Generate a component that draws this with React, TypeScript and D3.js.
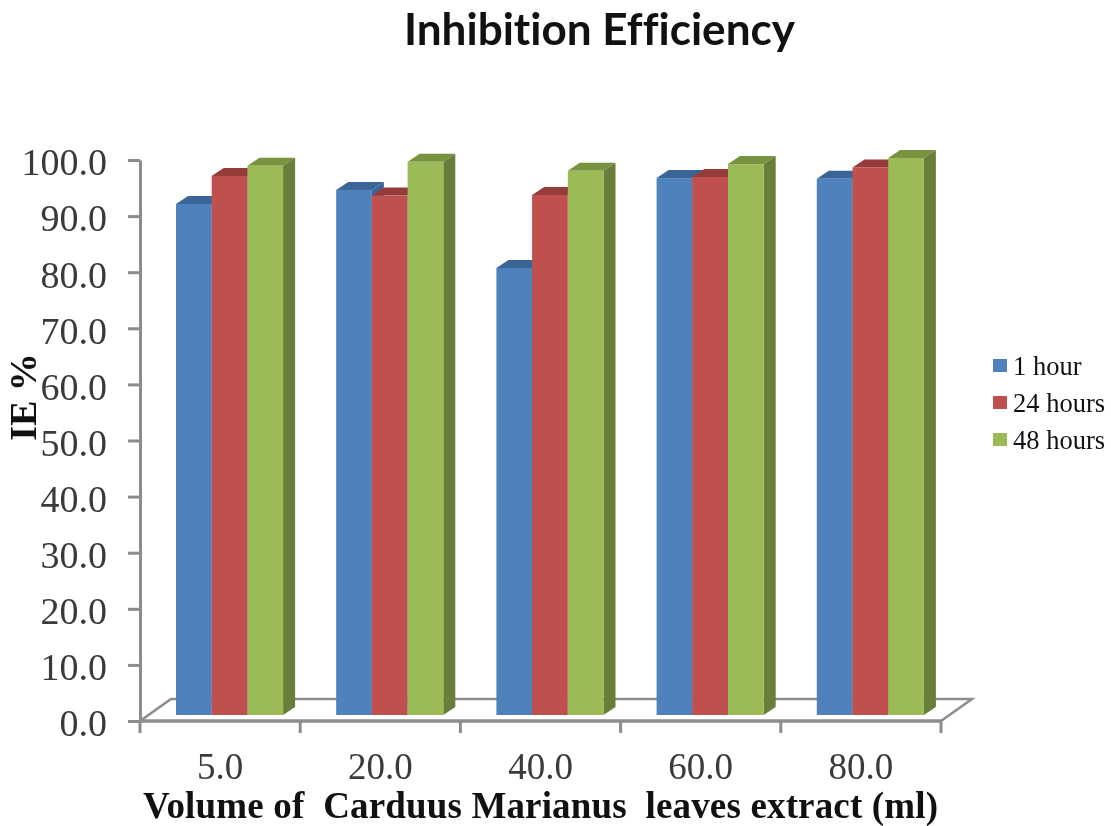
import React, { useRef, useEffect } from 'react'
import * as d3 from 'd3'

const volumes = ['5.0', '20.0', '40.0', '60.0', '80.0']
const seriesNames = ['1 hour', '24 hours', '48 hours']
const oneHour = [91.1, 93.6, 79.7, 95.7, 95.6]
const day = [96.1, 92.6, 92.7, 95.9, 97.6]
const twoDays = [97.9, 98.6, 97.0, 98.2, 99.3]
const yTicks = [0, 10, 20, 30, 40, 50, 60, 70, 80, 90, 100]

const seriesValues = [oneHour, day, twoDays]
const frontColors = ['#4f81bd', '#c0504d', '#9bbb59']
const topColors = ['#3b6596', '#953c3a', '#77933f']
const sideColors = ['#3b6596', '#953c3a', '#677f3a']

const App = () => {
  const svgRef = useRef<SVGSVGElement>(null)

  useEffect(() => {
    const svg = d3.select(svgRef.current)
    svg.selectAll('*').remove()

    const left = 140
    const right = 941
    const floorY = 721
    const topY = 160
    const depthX = 12
    const depthY = 8
    const floorDepthX = 31
    const floorDepthY = 22
    const serif = '"Liberation Serif", serif'
    const grey = '#8c8c8c'

    const y = d3.scaleLinear().domain([0, 100]).range([floorY, topY])
    const x = d3.scaleBand().domain(volumes).range([left, right])
    const barWidth = 35.7

    // floor
    svg
      .append('path')
      .attr(
        'd',
        `M${left},${floorY}L${left + floorDepthX},${floorY - floorDepthY}L${right + floorDepthX},${floorY - floorDepthY}L${right},${floorY}`,
      )
      .attr('fill', 'none')
      .attr('stroke', grey)
      .attr('stroke-width', 2.5)

    // axes
    const yAxis = d3
      .axisLeft(y)
      .tickValues(yTicks)
      .tickSize(12)
      .tickPadding(21)
      .tickSizeOuter(0)
      .tickFormat((d) => d3.format('.1f')(d as number))

    const gy = svg.append('g').attr('transform', `translate(${left},0)`).call(yAxis)
    gy.select('.domain').attr('stroke', grey).attr('stroke-width', 3)
    gy.selectAll('.tick line').attr('stroke', grey).attr('stroke-width', 3)
    gy.selectAll('.tick text')
      .attr('fill', '#3a3a3a')
      .attr('dy', '0.39em')
      .style('font-family', serif)
      .style('font-size', '38px')

    const xAxis = d3
      .axisBottom(x)
      .tickSize(0)
      .tickPadding(32)

    const gx = svg.append('g').attr('transform', `translate(0,${floorY})`).call(xAxis)
    gx.select('.domain').remove()
    gx.selectAll('.tick text')
      .attr('fill', '#3a3a3a')
      .style('font-family', serif)
      .style('font-size', '37px')

    svg
      .append('path')
      .attr('d', `M${left},${floorY}H${right}`)
      .attr('stroke', grey)
      .attr('stroke-width', 3.5)

    svg
      .append('g')
      .selectAll('line')
      .data([...volumes.map((v) => x(v) as number), right])
      .enter()
      .append('line')
      .attr('x1', (d) => d)
      .attr('x2', (d) => d)
      .attr('y1', floorY)
      .attr('y2', floorY + 12)
      .attr('stroke', grey)
      .attr('stroke-width', 3)

    // bars, drawn per group so that each one overlaps the previous side face
    const base = y(0) - 6
    volumes.forEach((v, i) => {
      const group = svg.append('g')
      seriesValues.forEach((values, s) => {
        const bx = (x(v) as number) + 36 + s * barWidth
        const top = base - (y(0) - y(values[i]))
        group
          .append('path')
          .attr(
            'd',
            `M${bx},${top}l${depthX},${-depthY}h${barWidth}l${-depthX},${depthY}z`,
          )
          .attr('fill', topColors[s])
        group
          .append('path')
          .attr(
            'd',
            `M${bx + barWidth},${top}l${depthX},${-depthY}V${base - depthY}l${-depthX},${depthY}z`,
          )
          .attr('fill', sideColors[s])
      })
      seriesValues.forEach((values, s) => {
        const bx = (x(v) as number) + 36 + s * barWidth
        const top = base - (y(0) - y(values[i]))
        group
          .append('rect')
          .attr('x', bx)
          .attr('y', top)
          .attr('width', barWidth)
          .attr('height', base - top)
          .attr('fill', frontColors[s])
      })
    })

    // titles
    svg
      .append('text')
      .attr('x', 404)
      .attr('y', 45)
      .attr('textLength', 391)
      .attr('lengthAdjust', 'spacingAndGlyphs')
      .style('font-family', 'Lato, sans-serif')
      .style('font-weight', 700)
      .style('font-size', '44px')
      .style('font-variant-ligatures', 'none')
      .attr('fill', '#111')
      .text('Inhibition Efficiency')

    svg
      .append('text')
      .attr('x', 143)
      .attr('y', 818)
      .attr('textLength', 795)
      .style('font-family', serif)
      .style('font-weight', 700)
      .style('font-size', '37px')
      .style('white-space', 'pre')
      .attr('fill', '#111')
      .text('Volume of  Carduus Marianus  leaves extract (ml)')

    svg
      .append('text')
      .attr('transform', 'translate(36,397) rotate(-90)')
      .attr('text-anchor', 'middle')
      .style('font-family', serif)
      .style('font-weight', 700)
      .style('font-size', '38px')
      .attr('fill', '#111')
      .text('IE %')

    // legend
    const legend = svg
      .append('g')
      .selectAll('g')
      .data(seriesNames)
      .enter()
      .append('g')
      .attr('transform', (d, i) => `translate(993,${359 + i * 37})`)

    legend
      .append('rect')
      .attr('width', 14)
      .attr('height', 13)
      .attr('fill', (d, i) => frontColors[i])

    legend
      .append('text')
      .attr('x', 20)
      .attr('y', 16)
      .style('font-family', serif)
      .style('font-size', '26.5px')
      .attr('fill', '#111')
      .text((d) => d)
  }, [])

  return (
    <svg
      ref={svgRef}
      width={1111}
      height={826}
      style={{
        position: 'absolute',
        left: 0,
        top: 0,
        background: '#fff',
        filter: 'blur(0.5px)',
      }}
    />
  )
}

export default App
